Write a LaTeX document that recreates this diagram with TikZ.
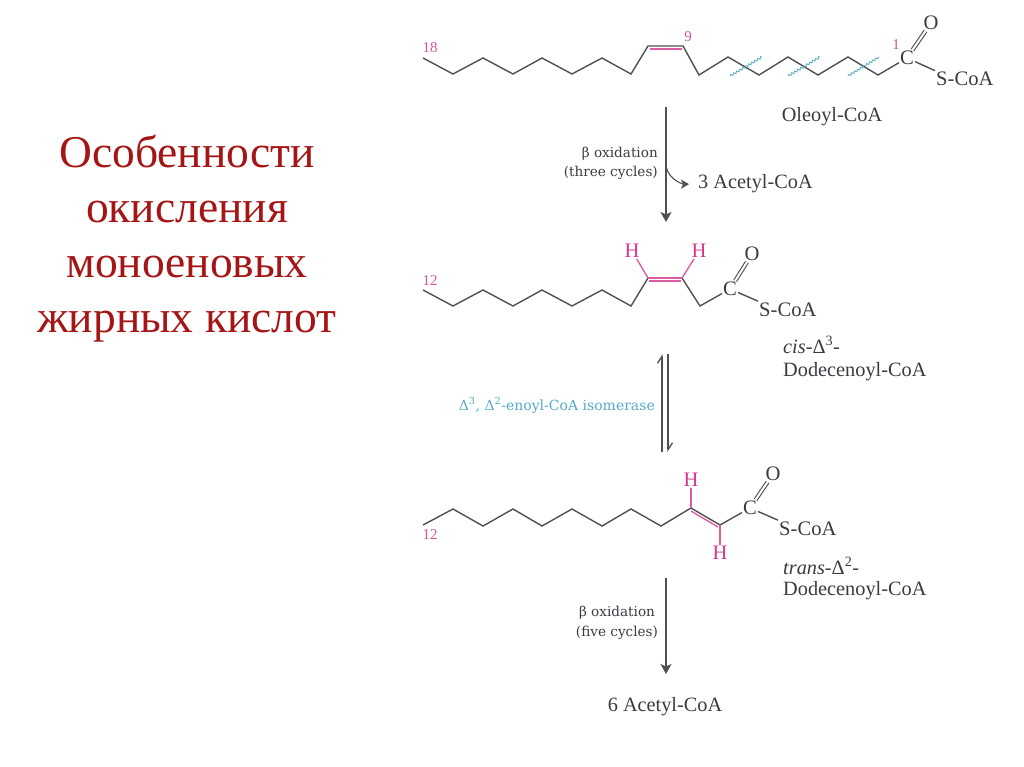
\documentclass[tikz,border=0pt]{standalone}
\usepackage{fontspec}
\setmainfont{Liberation Serif}
\newfontfamily\labelfont{DejaVu Serif}
\usetikzlibrary{arrows.meta, decorations.pathmorphing}

\definecolor{bondgray}{HTML}{505050}
\definecolor{titlered}{HTML}{A51515}
\definecolor{numpink}{HTML}{D2589E}
\definecolor{hpink}{HTML}{D4358F}
\definecolor{enzcyan}{HTML}{55A9CB}
\definecolor{cutcyan}{HTML}{5FAFC0}
\definecolor{textgray}{HTML}{3A3A42}

\tikzset{
  bond/.style={draw=bondgray, line width=1.4pt},
  pinkbond/.style={draw=hpink!80!white, line width=1.4pt},
  cobond/.style={bond, double, double distance=2pt, line width=1.1pt},
  cut/.style={draw=cutcyan, line width=0.9pt, decorate, decoration={snake, amplitude=1pt, segment length=3.5pt}},
  atom/.style={font=\fontsize{20.6}{24}\selectfont, text=textgray, inner sep=1pt},
  hatom/.style={font=\fontsize{20.6}{24}\selectfont, text=hpink, inner sep=1pt},
  num/.style={font=\fontsize{15}{16}\selectfont, text=numpink, inner sep=0pt},
  molname/.style={font=\fontsize{20.3}{24}\selectfont, text=textgray, inner sep=0pt},
  small/.style={font=\labelfont\fontsize{13.6}{15}\selectfont, text=textgray, inner sep=0pt},
  step arrow/.style={draw=bondgray, line width=1.4pt, -{Stealth[inset=2.5pt, length=10pt, width=11pt]}}
}

\begin{document}
\begin{tikzpicture}[x=1pt, y=-1pt]
\useasboundingbox (0,0) rectangle (1024,767);

\node[align=center, text=titlered, font=\fontsize{45.5}{55}\selectfont] (title) at (187,238.5)
  {Особенности\\окисления\\моноеновых\\жирных кислот};

% oleoyl
\foreach \i/\x/\y in {1/423/58, 2/453/74, 3/483/58, 4/513/74, 5/542/58, 6/572/74, 7/602/58, 8/631/74,
  9/648/46, 10/683/46, 11/699/75, 12/728/57, 13/759/75, 14/788/57, 15/818/75, 16/848/57, 17/878/75}
  \coordinate (a\i) at (\x,\y);
\node[atom] (Ca) at (907,58) {C};
\node[atom] (Oa) at (931,23) {O};
\node[atom, anchor=base west] (Sa) at (935,85.5) {S-CoA};

\draw[bond] (a1) -- (a2) -- (a3) -- (a4) -- (a5) -- (a6) -- (a7) -- (a8) -- (a9) -- (a10) -- (a11)
  -- (a12) -- (a13) -- (a14) -- (a15) -- (a16) -- (a17) -- (Ca);
\draw[cobond] (Ca) -- (Oa);
\draw[bond] (Ca) -- (Sa.north west);
\coordinate (p1) at (650,49);
\coordinate (p2) at (682,49);
\draw[pinkbond] (p1) -- (p2);

\foreach \i/\xa/\ya/\xb/\yb in {1/730/76/762/57, 2/788/76/820/57, 3/848/76/879/57}{
  \coordinate (cs\i) at (\xa,\ya);
  \coordinate (ce\i) at (\xb,\yb);
  \draw[cut] (cs\i) -- (ce\i);
}

\node[num] (n18) at (430,48) {18};
\node[num] (n9) at (688,37) {9};
\node[num] (n1) at (896,45) {1};
\node[molname, anchor=base] (oleoyl) at (832,121.5) {Oleoyl-CoA};

% first step
\coordinate (s1a) at (666,107);
\coordinate (s1b) at (666,222);
\coordinate (s1c) at (666,166);
\draw[step arrow] (s1a) -- (s1b);
\node[molname, anchor=base west] (acetyl3) at (698,189) {3 Acetyl-CoA};
\draw[draw=bondgray, line width=1.1pt, shorten >=9pt, -{Stealth[inset=2pt, length=8pt, width=9pt]}]
  (s1c) to[out=-80, in=180] (acetyl3.west);
\node[small, anchor=base east] (ox1) at (658,158) {β oxidation};
\node[small, anchor=base east] (cyc1) at (658,177) {(three cycles)};

% cis
\foreach \i/\x/\y in {1/423/290, 2/453/306, 3/483/290, 4/513/306, 5/542/290, 6/572/306, 7/602/290, 8/631/306,
  9/648/278, 10/682/278, 11/700/306}
  \coordinate (b\i) at (\x,\y);
\node[atom] (Cb) at (730,289) {C};
\node[atom] (Ob) at (752,254) {O};
\node[atom, anchor=base west] (Sb) at (758,316) {S-CoA};
\node[hatom] (Hb1) at (632,251) {H};
\node[hatom] (Hb2) at (699,251) {H};
\draw[bond] (b1) -- (b2) -- (b3) -- (b4) -- (b5) -- (b6) -- (b7) -- (b8) -- (b9);
\draw[bond] (b10) -- (b11) -- (Cb);
\draw[cobond] (Cb) -- (Ob);
\draw[bond] (Cb) -- (Sb.north west);
\draw[pinkbond] (b9) -- (Hb1);
\draw[pinkbond] (b10) -- (Hb2);
\draw[pinkbond] (b9) -- (b10);
\coordinate (q1) at (649,281);
\coordinate (q2) at (681,281);
\draw[pinkbond] (q1) -- (q2);
\node[num] (n12b) at (430,281) {12};
\node[molname, anchor=base west] (cis1) at (783,353) {\textit{cis}-Δ\textsuperscript{3}-};
\node[molname, anchor=base west] (cis2) at (783,376) {Dodecenoyl-CoA};

% isomerase
\coordinate (e1a) at (662,452);
\coordinate (e1b) at (662,354);
\coordinate (e2a) at (668,354);
\coordinate (e2b) at (668,452);
\draw[draw=bondgray, line width=1.3pt, -{Straight Barb[left, length=7pt, width=9pt]}] (e1a) -- (e1b);
\draw[draw=bondgray, line width=1.3pt, -{Straight Barb[left, length=7pt, width=9pt]}] (e2a) -- (e2b);
\node[small, anchor=base east, text=enzcyan, font=\labelfont\fontsize{14}{16}\selectfont] (enz) at (655,410)
  {Δ\textsuperscript{3}, Δ\textsuperscript{2}-enoyl-CoA isomerase};

% trans
\foreach \i/\x/\y in {1/423/525, 2/453/509, 3/483/526, 4/513/509, 5/542/526, 6/572/509, 7/602/526, 8/631/509,
  9/661/526, 10/691/508, 11/720/525}
  \coordinate (c\i) at (\x,\y);
\node[atom] (Cc) at (750,508) {C};
\node[atom] (Oc) at (773,474) {O};
\node[atom, anchor=base west] (Sc) at (778,535) {S-CoA};
\node[hatom] (Hc1) at (691,480) {H};
\node[hatom] (Hc2) at (720,553) {H};
\draw[bond] (c1) -- (c2) -- (c3) -- (c4) -- (c5) -- (c6) -- (c7) -- (c8) -- (c9) -- (c10) -- (c11) -- (Cc);
\draw[cobond] (Cc) -- (Oc);
\draw[bond] (Cc) -- (Sc.north west);
\draw[pinkbond] (c10) -- (Hc1);
\draw[pinkbond] (c11) -- (Hc2);
\coordinate (r1) at (691,511);
\coordinate (r2) at (718,527);
\draw[pinkbond] (r1) -- (r2);
\node[num] (n12c) at (430,535) {12};
\node[molname, anchor=base west] (trans1) at (783,574) {\textit{trans}-Δ\textsuperscript{2}-};
\node[molname, anchor=base west] (trans2) at (783,595) {Dodecenoyl-CoA};

% last step
\coordinate (s2a) at (666,578);
\coordinate (s2b) at (666,674);
\draw[step arrow] (s2a) -- (s2b);
\node[small, anchor=base] (ox2) at (617,616.5) {β oxidation};
\node[small, anchor=base] (cyc2) at (617,636.5) {(five cycles)};
\node[molname, anchor=base] (acetyl6) at (665,711) {6 Acetyl-CoA};

\end{tikzpicture}
\end{document}
